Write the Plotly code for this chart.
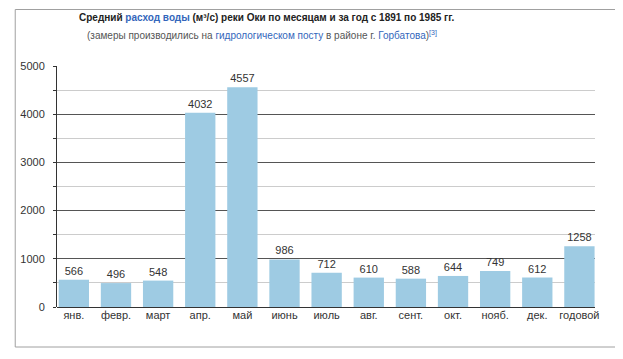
import plotly.graph_objects as go

categories = ["янв.", "февр.", "март", "апр.", "май", "июнь", "июль",
              "авг.", "сент.", "окт.", "нояб.", "дек.", "годовой"]
values = [566, 496, 548, 4032, 4557, 986, 712, 610, 588, 644, 749, 612, 1258]
y_ticks = [0, 1000, 2000, 3000, 4000, 5000]

BLUE = "#3366bb"
FONT = "Liberation Sans, Arial, sans-serif"

fig = go.Figure()
fig.add_trace(go.Bar(
    x=list(range(len(categories))),
    y=values,
    width=0.72,
    marker=dict(color="#9ecbe3", line=dict(width=0)),
    text=[str(v) for v in values],
    textposition="outside",
    textfont=dict(size=11, color="#333333", family=FONT),
    cliponaxis=False,
))

# plot area on screen: x 54..595, y 66..307 (page body has 8px margin)
def px2paper_x(px):
    return (px - 54) / 541.0

def px2paper_y(py):
    return (307 - py) / 241.0

title1 = ('<b>Средний <span style="color:%s">расход воды</span> (м³/с) реки Оки '
          'по месяцам и за год с 1891 по 1985 гг.</b>' % BLUE)
title2 = ('(замеры производились на <span style="color:%s">гидрологическом посту</span> '
          'в районе г. <span style="color:%s">Горбатова</span>)<sup><span style="color:%s">[3]</span></sup>'
          % (BLUE, BLUE, BLUE))

frame_color = "#a0a0a0"
fx0, fx1 = px2paper_x(12), px2paper_x(617.5)
fy0, fy1 = px2paper_y(347), px2paper_y(9.5)

fig.update_layout(
    width=615, height=343,
    margin=dict(l=46, r=28, t=58, b=44),
    paper_bgcolor="white", plot_bgcolor="white",
    font=dict(family=FONT, size=11, color="#333333"),
    showlegend=False,
    xaxis=dict(
        tickmode="array",
        tickvals=list(range(len(categories))),
        ticktext=categories,
        range=[-0.40, 12.37],
        showgrid=False, showline=False, zeroline=False, ticks="",
        tickfont=dict(size=11, color="#333333"),
    ),
    yaxis=dict(
        range=[0, 5000],
        tickmode="array",
        tickvals=y_ticks,
        showgrid=True, gridcolor="#555555", gridwidth=1,
        showline=True, linecolor="#333333", linewidth=1,
        zeroline=True, zerolinecolor="#333333", zerolinewidth=1,
        ticks="outside", ticklen=3, tickcolor="#333333",
        ticklabelstandoff=6,
        tickfont=dict(size=11, color="#333333"),
        minor=dict(dtick=500, showgrid=True, gridcolor="#cccccc", gridwidth=1,
                   ticks="outside", ticklen=3, tickcolor="#333333"),
    ),
    annotations=[
        dict(text=title1, xref="paper", yref="paper",
             x=px2paper_x(265), y=px2paper_y(17), xanchor="center", yanchor="middle",
             showarrow=False, font=dict(size=10, color="#222222", family=FONT)),
        dict(text=title2, xref="paper", yref="paper",
             x=px2paper_x(260), y=px2paper_y(35), xanchor="center", yanchor="middle",
             showarrow=False, font=dict(size=10, color="#555555", family=FONT)),
    ],
    shapes=[
        dict(type="line", xref="paper", yref="paper", x0=fx0, x1=fx1, y0=fy1, y1=fy1,
             line=dict(color=frame_color, width=1), layer="above"),
        dict(type="line", xref="paper", yref="paper", x0=fx0, x1=fx1, y0=fy0, y1=fy0,
             line=dict(color=frame_color, width=1), layer="above"),
        dict(type="line", xref="paper", yref="paper", x0=fx0, x1=fx0, y0=fy0, y1=fy1,
             line=dict(color=frame_color, width=1), layer="above"),
        dict(type="line", xref="paper", yref="paper", x0=fx1, x1=fx1, y0=fy0, y1=fy1,
             line=dict(color=frame_color, width=1), layer="above"),
    ],
)

fig.write_html("out.html")
